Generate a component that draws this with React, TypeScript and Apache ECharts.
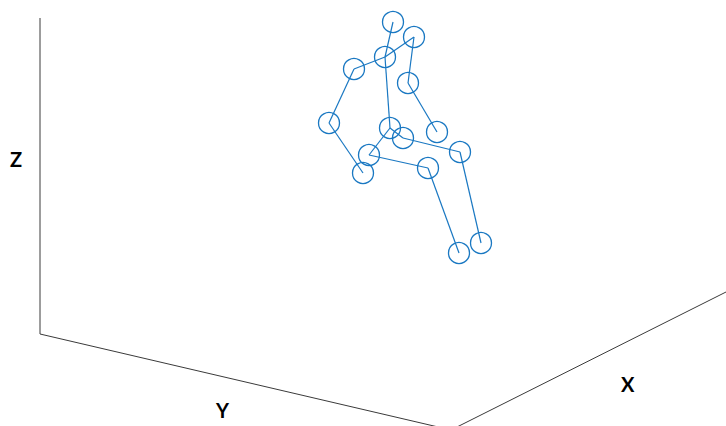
import React, { useEffect, useRef } from "react";
import * as echarts from "echarts";

// Projected view-plane coordinates of the skeleton joints (origin at the Z/Y axis corner)
const jointNames = [
  "head", "shoulderR", "neck", "shoulderL", "elbowR", "elbowL", "spineBase",
  "handR", "hipR", "kneeR", "hipL", "handL", "kneeL", "footL", "footR",
];
const jointX = [353, 374, 345, 314, 368, 289, 350, 397, 363, 420, 329, 323, 388, 419, 441];
const jointY = [312, 297, 277, 265, 251, 211, 206, 202, 196, 182, 179, 161, 166, 81, 91];

// Bones as pairs of joint indices
const bones: [number, number][] = [
  [0, 2], [2, 6],          // spine
  [3, 2], [2, 1],          // shoulders
  [1, 4], [4, 7],          // right arm
  [3, 5], [5, 11],         // left arm
  [6, 10], [6, 8],         // hips
  [10, 12], [12, 13],      // left leg
  [8, 9], [9, 14],         // right leg
];

// Box edges of the 3-D frame: Z axis, Y axis, X axis
const frameX = [0, 0, 411, 686];
const frameY = [316, 0, -96, 42];

const axisNames = ["Z", "Y", "X"];

const BLUE = "#1a78c2";

export default function App() {
  const ref = useRef<HTMLDivElement>(null);

  useEffect(() => {
    if (!ref.current) return;
    const chart = echarts.init(ref.current, null, { renderer: "svg" });

    const nodes = jointNames.map((name, i) => ({
      name,
      value: [jointX[i], jointY[i]],
    }));
    const links = bones.map(([s, t]) => ({ source: s, target: t }));
    const frame = frameX.map((x, i) => [x, frameY[i]]);

    const labelStyle = {
      fontFamily: "Lato, 'Open Sans', sans-serif",
      fontWeight: "bold",
      fontSize: 20,
      fill: "#000",
      align: "left",
      verticalAlign: "top",
    };

    chart.setOption({
      animation: false,
      backgroundColor: "#ffffff",
      grid: { left: 0, right: 0, top: 0, bottom: 0 },
      xAxis: { type: "value", min: -40, max: 686, show: false },
      yAxis: { type: "value", min: -92, max: 334, show: false },
      series: [
        {
          type: "line",
          data: frame,
          symbol: "none",
          lineStyle: { color: "#3a3a3a", width: 1 },
          silent: true,
        },
        {
          type: "graph",
          coordinateSystem: "cartesian2d",
          data: nodes,
          links,
          symbol: "circle",
          symbolSize: 21,
          itemStyle: { color: "rgba(0,0,0,0)", borderColor: BLUE, borderWidth: 1.3 },
          lineStyle: { color: BLUE, width: 1.2, opacity: 1 },
          label: { show: false },
          silent: true,
        },
      ],
      graphic: [
        { type: "text", left: 10, top: 149, style: { ...labelStyle, text: axisNames[0] } },
        { type: "text", left: 216, top: 400, style: { ...labelStyle, text: axisNames[1] } },
        { type: "text", left: 621, top: 374, style: { ...labelStyle, text: axisNames[2] } },
      ],
    });

    return () => chart.dispose();
  }, []);

  return (
    <div
      ref={ref}
      style={{ position: "fixed", left: 0, top: 0, width: 726, height: 426, background: "#fff" }}
    />
  );
}
